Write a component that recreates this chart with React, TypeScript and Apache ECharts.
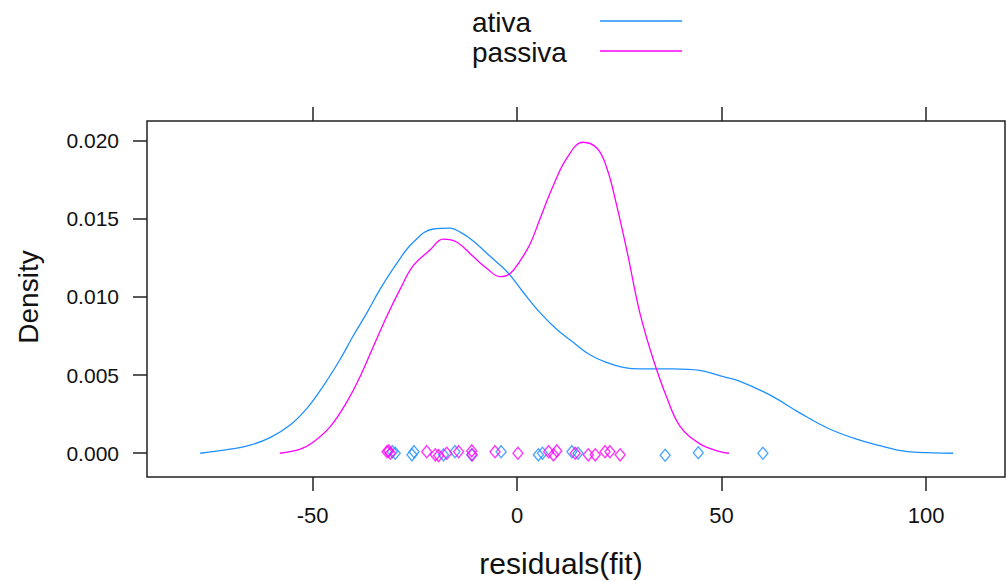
import React, { useEffect, useRef } from "react";
import * as echarts from "echarts";

const ativaX = [-77.5, -70.2, -65.5, -60.4, -55.5, -51.3, -47.4, -43.3, -40.1, -36.7, -33.5, -29.3, -25.4, -20.5, -16.4, -13.9, -10.8, -6.6, -2.4, 1.5, 5.6, 9.8, 13.7, 17.8, 22, 25.9, 30, 38.1, 44.7, 50.4, 54.5, 62, 69, 76, 83, 89, 93, 98, 106.6];
const ativaY = [0, 0.00026, 0.0005, 0.001, 0.0018, 0.0029, 0.0043, 0.006, 0.0075, 0.009, 0.0105, 0.0122, 0.0135, 0.01435, 0.0144, 0.01415, 0.0136, 0.0126, 0.0116, 0.0103, 0.009, 0.0079, 0.0071, 0.0063, 0.0058, 0.0055, 0.0054, 0.0054, 0.0053, 0.0049, 0.0046, 0.0037, 0.0026, 0.0016, 0.0009, 0.00047, 0.0002, 0.00005, 0];

const passivaX = [-58, -53, -49.9, -45.7, -41.6, -38.4, -35.2, -31.8, -28.6, -25.4, -21.3, -18.1, -14.7, -10.8, -7.3, -4.2, -1.7, 0.7, 3.2, 5.6, 8.8, 12.2, 16.1, 19.6, 22, 24.4, 26.9, 30, 33.3, 36.7, 39.9, 44.7, 49.6, 51.8];
const passivaY = [0, 0.00026, 0.0007, 0.0017, 0.0033, 0.0049, 0.0068, 0.0088, 0.0105, 0.012, 0.013, 0.0137, 0.0135, 0.0126, 0.0118, 0.0113, 0.0115, 0.0123, 0.0134, 0.015, 0.0171, 0.0189, 0.0199, 0.0195, 0.0182, 0.0158, 0.0129, 0.009, 0.006, 0.0035, 0.0017, 0.0006, 0.0001, 0];

const ativaRug = [-30.5, -29.8, -25.7, -25.2, -18, -15.2, -11.1, -3.9, 5.2, 6.2, 13.4, 14.9, 36.2, 44.3, 60.1];
const ativaJit = [0.0001, 0, -0.0001, 0.0001, -0.0001, 0.0001, -0.0001, 0.0001, -0.0001, 0, 0.0001, 0, -0.00013, 0.00003, 0];
const passivaRug = [-31.8, -31.4, -31, -22.1, -20, -19.2, -17.2, -14.3, -11.1, -11.0, -5.4, 0.2, 7.7, 8.9, 9.7, 14.2, 17.4, 19.1, 21.5, 22.7, 25.2];
const passivaJit = [0.0001, 0.00015, 0, 0.0001, -0.0001, -0.00015, 0, 0.0001, 0.00015, -0.0001, 0.0001, 0, 0.0001, -0.0001, 0.00015, 0, -0.0001, -0.0001, 0.0001, 0.0001, -0.0001];

const xTicks = [-50, 0, 50, 100];
const yTicks = [0, 0.005, 0.01, 0.015, 0.02];
const groupNames = ["ativa", "passiva"];
const colors = ["#1e90ff", "#ff00ff"];

const FONT = "Liberation Sans, Arial, sans-serif";

export default function App() {
  const ref = useRef<HTMLDivElement>(null);
  useEffect(() => {
    if (!ref.current) return;
    const chart = echarts.init(ref.current, undefined, { renderer: "svg" });
    const zip = (xs: number[], ys: number[]) => xs.map((x, i) => [x, ys[i]]);
    const tickStyle = { color: "#222", width: 1.5 };
    chart.setOption({
      animation: false,
      backgroundColor: "#ffffff",
      textStyle: { fontFamily: FONT },
      grid: {
        left: 147,
        top: 121,
        width: 858,
        height: 356,
        show: true,
        borderColor: "#222",
        borderWidth: 1.5,
        containLabel: false,
      },
      xAxis: [
        {
          type: "value",
          position: "bottom",
          min: -90.5,
          max: 119.3,
          splitLine: { show: false },
          axisLine: { show: false, onZero: false },
          axisTick: { show: true, inside: false, length: 14, customValues: xTicks, lineStyle: tickStyle },
          axisLabel: { show: true, customValues: xTicks, margin: 27, fontSize: 22, color: "#111", fontFamily: FONT },
        },
        {
          type: "value",
          position: "top",
          min: -90.5,
          max: 119.3,
          splitLine: { show: false },
          axisLine: { show: false, onZero: false },
          axisTick: { show: true, inside: false, length: 14, customValues: xTicks, lineStyle: tickStyle },
          axisLabel: { show: false },
        },
      ],
      yAxis: [
        {
          type: "value",
          position: "left",
          min: -0.00152,
          max: 0.02126,
          splitLine: { show: false },
          axisLine: { show: false, onZero: false },
          axisTick: { show: true, inside: false, length: 14, customValues: yTicks, lineStyle: tickStyle },
          axisLabel: {
            show: true,
            customValues: yTicks,
            margin: 28,
            fontSize: 21,
            color: "#111",
            fontFamily: FONT,
            formatter: (v: number) => v.toFixed(3),
          },
        },
      ],
      series: [
        {
          name: groupNames[0],
          type: "line",
          data: zip(ativaX, ativaY),
          smooth: 0.4,
          showSymbol: false,
          lineStyle: { color: colors[0], width: 1.3 },
          z: 3,
        },
        {
          name: groupNames[1],
          type: "line",
          data: zip(passivaX, passivaY),
          smooth: 0.4,
          showSymbol: false,
          lineStyle: { color: colors[1], width: 1.3 },
          z: 3,
        },
        {
          name: groupNames[0] + " pts",
          type: "scatter",
          data: zip(ativaRug, ativaJit),
          symbol: "diamond",
          symbolSize: [10, 12],
          itemStyle: { color: "rgba(0,0,0,0)", borderColor: colors[0], borderWidth: 1.4 },
          z: 4,
        },
        {
          name: groupNames[1] + " pts",
          type: "scatter",
          data: zip(passivaRug, passivaJit),
          symbol: "diamond",
          symbolSize: [10, 12],
          itemStyle: { color: "rgba(0,0,0,0)", borderColor: colors[1], borderWidth: 1.4 },
          z: 4,
        },
      ],
      graphic: [
        {
          type: "text",
          left: 472,
          top: 8,
          style: { text: groupNames[0], fill: "#111", font: `28px ${FONT}` },
        },
        {
          type: "text",
          left: 472,
          top: 38,
          style: { text: groupNames[1], fill: "#111", font: `28px ${FONT}` },
        },
        { type: "line", shape: { x1: 600, y1: 21, x2: 682, y2: 21 }, style: { stroke: colors[0], lineWidth: 1.5 } },
        { type: "line", shape: { x1: 600, y1: 51, x2: 682, y2: 51 }, style: { stroke: colors[1], lineWidth: 1.5 } },
        {
          type: "text",
          x: 561,
          y: 563,
          style: { text: "residuals(fit)", font: `30px ${FONT}`, fill: "#111", textAlign: "center", textVerticalAlign: "middle" },
        },
        {
          type: "text",
          x: 28,
          y: 297,
          rotation: Math.PI / 2,
          style: { text: "Density", font: `28px ${FONT}`, fill: "#111", textAlign: "center", textVerticalAlign: "middle" },
        },
      ],
    });
    return () => chart.dispose();
  }, []);
  return <div ref={ref} style={{ position: "fixed", left: 0, top: 0, width: 1006, height: 581, background: "#fff" }} />;
}
